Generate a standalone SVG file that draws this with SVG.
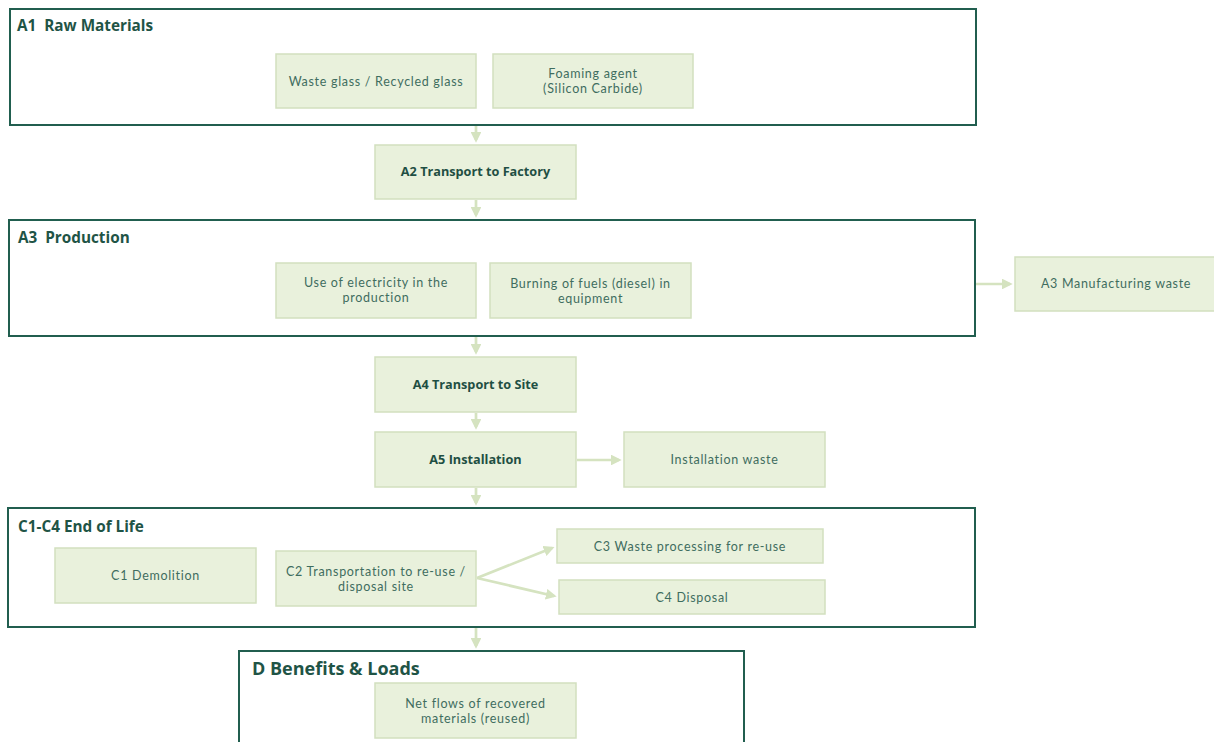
<svg xmlns="http://www.w3.org/2000/svg" width="1214" height="742" viewBox="0 0 1214 742">
<style>
.frame{fill:#fff;stroke:#215e4f;stroke-width:2}
.box{fill:#e9f1dc;stroke:#d2dfbf;stroke-width:1.5}
.t{font-family:Lato,"Open Sans",sans-serif;font-size:12.5px;letter-spacing:0.7px;fill:#3f6d5f;text-anchor:middle}
.b{font-family:"Open Sans","Noto Sans",sans-serif;font-size:12.7px;font-weight:bold;fill:#1f4f43;text-anchor:middle}
.h{font-family:"Open Sans","Noto Sans",sans-serif;font-size:15.3px;font-weight:bold;fill:#1f5446}
.c{stroke:#d5e3c0;stroke-width:2.7;fill:none;marker-end:url(#ah)}
</style>
<defs>
<marker id="ah" markerWidth="4" markerHeight="4" refX="3" refY="2" orient="auto" markerUnits="strokeWidth">
<path d="M0,0 L4,2 L0,4 z" fill="#d5e3c0"/>
</marker>
</defs>
<rect width="1214" height="742" fill="#fff"/>
<g id="A1">
<rect class="frame" x="10" y="9" width="966" height="116"/>
<text class="h" x="17" y="31">A1&#160; Raw Materials</text>
</g>
<g id="waste-glass"><rect class="box" x="276" y="54" width="200" height="54"/><text class="t" x="376" y="86">Waste glass / Recycled glass</text></g>
<g id="foaming"><rect class="box" x="493" y="54" width="200" height="54"/><text class="t"><tspan x="593" y="78">Foaming agent</tspan><tspan x="593" y="93">(Silicon Carbide)</tspan></text></g>
<g id="A2"><rect class="box" x="375" y="145" width="201" height="54"/><text class="b" x="475.5" y="176">A2 Transport to Factory</text></g>
<g id="A3">
<rect class="frame" x="9" y="220" width="966" height="116"/>
<text class="h" x="18" y="243">A3&#160; Production</text>
</g>
<g id="electricity"><rect class="box" x="276" y="263" width="200" height="55"/><text class="t"><tspan x="376" y="287">Use of electricity in the</tspan><tspan x="376" y="302">production</tspan></text></g>
<g id="fuels"><rect class="box" x="490" y="263" width="201" height="55"/><text class="t"><tspan x="590.5" y="288">Burning of fuels (diesel) in</tspan><tspan x="590.5" y="303">equipment</tspan></text></g>
<g id="mfg-waste"><rect class="box" x="1015" y="257" width="205" height="54"/><text class="t" x="1116" y="288">A3 Manufacturing waste</text></g>
<g id="A4"><rect class="box" x="375" y="357" width="201" height="55"/><text class="b" x="475.5" y="389">A4 Transport to Site</text></g>
<g id="A5"><rect class="box" x="375" y="432" width="201" height="55"/><text class="b" x="475.5" y="464">A5 Installation</text></g>
<g id="inst-waste"><rect class="box" x="624" y="432" width="201" height="55"/><text class="t" x="724.5" y="464">Installation waste</text></g>
<g id="C1-C4">
<rect class="frame" x="8" y="508" width="967" height="119"/>
<text class="h" x="18" y="532">C1-C4 End of Life</text>
</g>
<g id="C1"><rect class="box" x="55" y="548" width="201" height="55"/><text class="t" x="155.5" y="580">C1 Demolition</text></g>
<g id="C2"><rect class="box" x="276" y="551" width="200" height="55"/><text class="t"><tspan x="376" y="576">C2 Transportation to re-use /</tspan><tspan x="376" y="591">disposal site</tspan></text></g>
<g id="C3"><rect class="box" x="557" y="529" width="266" height="34"/><text class="t" x="690" y="551">C3 Waste processing for re-use</text></g>
<g id="C4"><rect class="box" x="559" y="580" width="266" height="34"/><text class="t" x="692" y="602">C4 Disposal</text></g>
<g id="D">
<rect class="frame" x="239" y="651" width="505" height="100"/>
<text class="h" x="252" y="675" style="font-size:18px">D Benefits &amp; Loads</text>
</g>
<g id="net-flows"><rect class="box" x="375" y="683" width="201" height="55"/><text class="t"><tspan x="475.5" y="708">Net flows of recovered</tspan><tspan x="475.5" y="723">materials (reused)</tspan></text></g>
<g id="connectors">
<line class="c" x1="476" y1="126" x2="476" y2="140"/>
<line class="c" x1="476" y1="200" x2="476" y2="215"/>
<line class="c" x1="976" y1="284" x2="1010" y2="284"/>
<line class="c" x1="476" y1="337" x2="476" y2="352"/>
<line class="c" x1="476" y1="413" x2="476" y2="427"/>
<line class="c" x1="577" y1="460" x2="619" y2="460"/>
<line class="c" x1="476" y1="488" x2="476" y2="503"/>
<line class="c" x1="477" y1="578" x2="552" y2="548"/>
<line class="c" x1="477" y1="578" x2="554" y2="596"/>
<line class="c" x1="476" y1="628" x2="476" y2="646"/>
</g>
</svg>
